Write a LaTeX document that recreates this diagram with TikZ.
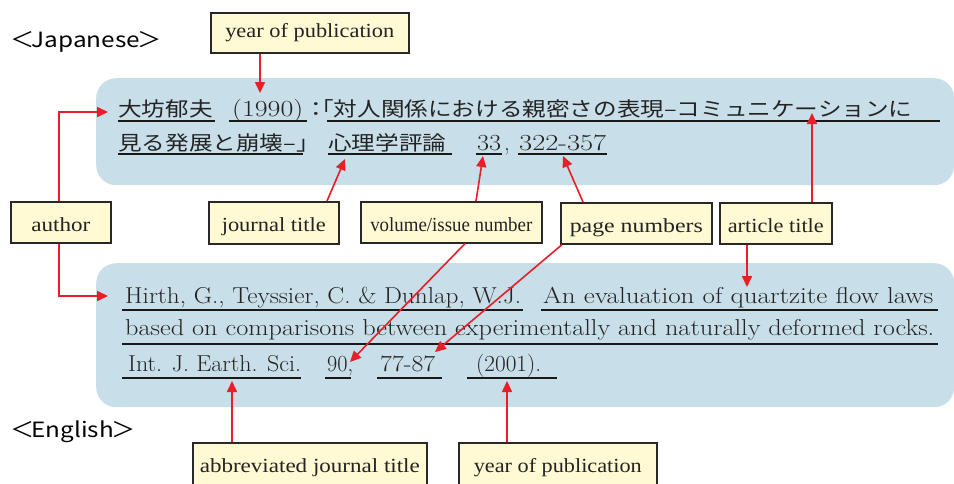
\documentclass[tikz,border=0pt]{standalone}
\usepackage{fontspec}
\usepackage{graphicx}
\usetikzlibrary{arrows.meta}
\newfontfamily\jpf{Noto Sans CJK JP}
\newfontfamily\lsf{Liberation Serif}
\definecolor{bluebg}{RGB}{200,222,232}
\definecolor{lblfill}{RGB}{255,250,212}
\definecolor{lbldraw}{RGB}{40,40,40}
\definecolor{redarr}{RGB}{232,30,40}
\definecolor{txt}{RGB}{35,35,35}
\newcommand\fw[2]{\resizebox{#1pt}{\height}{#2}}
\newcommand\jh[1]{\scalebox{1.18}[1]{#1}}
\tikzset{
  panel/.style={fill=bluebg, rounded corners=20pt, draw=none, inner sep=0pt, anchor=north west},
  lbl/.style={draw=lbldraw, fill=lblfill, line width=1.6pt, inner sep=0pt, anchor=north west,
    text=txt, font=\lsf\fontsize{20}{20}\selectfont, text height=18pt, text depth=0pt},
  seg/.style={inner sep=0pt, anchor=base west, text=txt},
  jps/.style={seg, font=\jpf\fontsize{20}{20}\selectfont},
  lms/.style={seg, font=\rmfamily\fontsize{23}{23}\selectfont\addfontfeature{FakeBold=0.4}},
  ens/.style={seg, font=\rmfamily\fontsize{23}{23}\selectfont\addfontfeature{FakeBold=0.4}},
  sans/.style={seg, text=black, font=\jpf\fontsize{21}{21}\selectfont},
  ul/.style={line width=2pt, draw=black!90},
  arr/.style={draw=redarr, line width=1.6pt, -{Triangle[length=11pt,width=10pt]}}
}
\begin{document}
\begin{tikzpicture}[x=1pt,y=-1pt]
\useasboundingbox (0,0) rectangle (954,483);
% panels
\node[panel, minimum width=858pt, minimum height=107pt] (jpanel) at (96,78) {};
\node[panel, minimum width=858pt, minimum height=144pt] (epanel) at (96,263) {};
% section labels
\node[sans] (jplab) at (10,47) {\fw{152}{＜\kern-0.12em Japanese\kern-0.08em＞}};
\node[sans] (enlab) at (10,437) {\fw{126}{＜\kern-0.12em English\kern-0.08em＞}};
% Japanese reference
\node[jps] (ja1) at (118,116.5) {\jh{大坊郁夫}};
\node[lms] (ja2) at (232,116.5) {\fw{71}{(1990)}};
\node[jps] (ja3) at (304.5,116.5) {\jh{：}};
\node[jps] (ja4) at (310,116.5) {\jh{「対人関係における親密さの表現–コミュニケーションに}};
\node[jps] (ja5) at (118,150) {\jh{見る発展と崩壊–」}};
\node[jps] (ja6) at (328,150) {\jh{心理学評論}};
\node[lms] (ja7) at (477,150) {\fw{24}{33}};
\node[lms] (ja8) at (504,150) {,};
\node[lms] (ja9) at (519,150) {\fw{87}{322-357}};
\draw[ul] (118,120.5) -- (215,120.5);
\draw[ul] (229,120.5) -- (307,120.5);
\draw[ul] (327,120.5) -- (940,120.5);
\draw[ul] (118,153.5) -- (303,153.5);
\draw[ul] (328,153.5) -- (452,153.5);
\draw[ul] (476,153.5) -- (502,153.5);
\draw[ul] (518,153.5) -- (607,153.5);
% English reference
\node[ens] (en1) at (125,303.5) {\fw{396}{Hirth, G., Teyssier, C. \& Dunlap, W.J.}};
\node[ens] (en2) at (543,303.5) {\fw{390}{An evaluation of quartzite flow laws}};
\node[ens] (en3) at (125,335.5) {\fw{809}{based on comparisons between experimentally and naturally deformed rocks.}};
\node[lms] (en4) at (128,371.5) {\fw{173}{Int. J. Earth. Sci.}};
\node[lms] (en5) at (327,371.5) {\fw{26}{90,}};
\node[lms] (en6) at (380,371.5) {\fw{55}{77-87}};
\node[lms] (en7) at (476,371.5) {\fw{65}{(2001).}};
\draw[ul] (122,309.5) -- (523,309.5);
\draw[ul] (541,309.5) -- (938,309.5);
\draw[ul] (122,343.5) -- (938,343.5);
\draw[ul] (122,377.5) -- (301,377.5);
\draw[ul] (325,377.5) -- (351,377.5);
\draw[ul] (377,377.5) -- (442,377.5);
\draw[ul] (467,377.5) -- (557,377.5);
% labels
\node[lbl, minimum width=198pt, minimum height=40pt, text height=10pt] (yr1) at (210,12) {\fw{169}{year of publication}};
\node[lbl, minimum width=100pt, minimum height=41pt] (author) at (10,201) {\fw{59}{author}};
\node[lbl, minimum width=130pt, minimum height=42pt] (jour) at (208,201) {\fw{104}{journal title}};
\node[lbl, minimum width=181pt, minimum height=41pt] (vol) at (360,201) {\fw{162}{volume/issue number}};
\node[lbl, minimum width=151pt, minimum height=41pt] (page) at (560,202) {\fw{133}{page numbers}};
\node[lbl, minimum width=112pt, minimum height=41pt] (art) at (719,202) {\fw{96}{article title}};
\node[lbl, minimum width=234pt, minimum height=42pt] (abbr) at (192,442) {\fw{220}{abbreviated journal title}};
\node[lbl, minimum width=198pt, minimum height=42pt] (yr2) at (458,442) {\fw{168}{year of publication}};
% arrow tips
\coordinate (t1) at (260,93);
\coordinate (tA1) at (108,112);
\coordinate (tA2) at (108,296);
\coordinate (tJ) at (345,159);
\coordinate (tV1) at (483,156);
\coordinate (tV2) at (350,362);
\coordinate (tP1) at (563,156);
\coordinate (tP2) at (435,352);
\coordinate (tT1) at (812,113);
\coordinate (tT2) at (747,287);
\coordinate (tAb) at (232,381);
\coordinate (tY2) at (507,381);
% arrows
\draw[arr] ([xshift=50pt]yr1.south west) -- (t1);
\draw[arr] ([xshift=-2pt]author.north) |- (tA1);
\draw[arr] ([xshift=-2pt]author.south) |- (tA2);
\draw[arr] ([xshift=119pt]jour.north west) -- (tJ);
\draw[arr] ([xshift=116pt]vol.north west) -- (tV1);
\draw[arr] ([xshift=105pt]vol.south west) -- (tV2);
\draw[arr] ([xshift=23pt]page.north west) -- (tP1);
\draw[arr] ([xshift=2pt]page.south west) -- (tP2);
\draw[arr] ([xshift=93pt]art.north west) -- (tT1);
\draw[arr] ([xshift=28pt]art.south west) -- (tT2);
\draw[arr] ([xshift=40pt]abbr.north west) -- (tAb);
\draw[arr] ([xshift=49pt]yr2.north west) -- (tY2);
\end{tikzpicture}
\end{document}
